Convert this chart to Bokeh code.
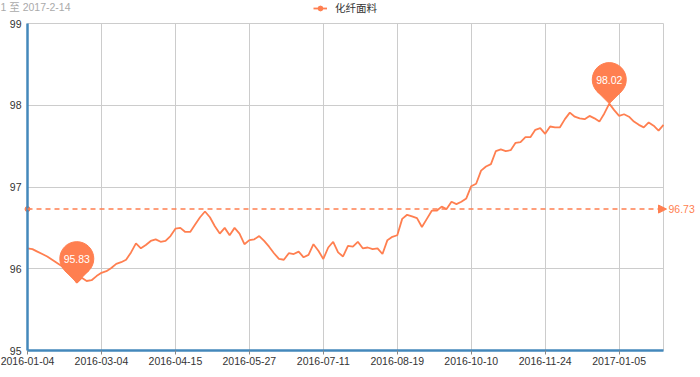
import numpy as np
from bokeh.plotting import figure
from bokeh.models import (Range1d, FixedTicker, Label, Legend, LegendItem,
                          Arrow, NormalHead)
from bokeh.core.properties import value
from bokeh.embed import file_html
from bokeh.resources import INLINE

# ---------------- data ----------------
series_name = "化纤面料"
subtitle = "1 至 2017-2-14"
values = [
    96.25, 96.24, 96.21, 96.18, 96.15, 96.11, 96.07, 96.03, 95.98, 95.92,
    95.83, 95.89, 95.85, 95.86, 95.91, 95.95, 95.97, 96.01, 96.06, 96.08,
    96.11, 96.20, 96.31, 96.25, 96.29, 96.34, 96.36, 96.33, 96.34, 96.40,
    96.49, 96.50, 96.45, 96.45, 96.54, 96.63, 96.70, 96.63, 96.52, 96.43,
    96.50, 96.41, 96.50, 96.43, 96.30, 96.35, 96.36, 96.40, 96.34, 96.27,
    96.19, 96.12, 96.11, 96.19, 96.18, 96.21, 96.14, 96.17, 96.30, 96.22,
    96.12, 96.26, 96.33, 96.20, 96.15, 96.28, 96.27, 96.33, 96.25, 96.26,
    96.24, 96.25, 96.18, 96.35, 96.39, 96.41, 96.61, 96.66, 96.64, 96.62,
    96.51, 96.61, 96.71, 96.71, 96.76, 96.73, 96.82, 96.79, 96.82, 96.86,
    97.01, 97.04, 97.20, 97.25, 97.28, 97.44, 97.46, 97.44, 97.45, 97.54,
    97.55, 97.61, 97.61, 97.70, 97.72, 97.65, 97.74, 97.73, 97.73, 97.83,
    97.91, 97.86, 97.84, 97.83, 97.87, 97.84, 97.80, 97.90, 98.02, 97.94,
    97.87, 97.89, 97.86, 97.80, 97.76, 97.73, 97.79, 97.75, 97.69, 97.76,
]
tick_labels = ["2016-01-04", "2016-03-04", "2016-04-15", "2016-05-27",
               "2016-07-11", "2016-08-19", "2016-10-10", "2016-11-24",
               "2017-01-05"]
tick_step = 15
y_ticks = [95, 96, 97, 98, 99]
avg_value = 96.73

# ---------------- styling ----------------
CORAL = "#ff7f50"
AXIS_BLUE = "#4488bb"
GRID = "#cccccc"
LATIN = "Liberation Sans"
CJK = "Noto Sans CJK SC"

W, H = 700, 377
GL, GR, GT, GB = 27, 37, 23, 27          # grid margins inside the canvas
gw, gh = W - GL - GR, H - GT - GB        # grid size in pixels

n = len(values)
xs = list(range(n))
y0, y1 = y_ticks[0], y_ticks[-1]
sx = gw / (n - 1)                         # pixels per category step
sy = gh / (y1 - y0)                       # pixels per value unit

# the frame covers the whole canvas, so that texts outside the grid
# (subtitle, legend, axis labels, average label) are never clipped;
# both axes are pinned to the grid edges
p = figure(width=W, height=H, output_backend="svg", toolbar_location=None,
           x_range=Range1d(-GL / sx, (n - 1) + GR / sx),
           y_range=Range1d(y0 - GB / sy, y1 + GT / sy),
           min_border_left=0, min_border_right=0,
           min_border_top=0, min_border_bottom=0)
p.background_fill_color = "white"
p.border_fill_color = "white"
p.outline_line_color = None

# x axis (category-like, labelled every tick_step points)
xt = FixedTicker(ticks=[i * tick_step for i in range(len(tick_labels))])
xa = p.xaxis[0]
xa.ticker = xt
xa.fixed_location = y0
xa.bounds = (0, n - 1)
xa.major_label_overrides = {i * tick_step: lab for i, lab in enumerate(tick_labels)}
xa.axis_line_color = AXIS_BLUE
xa.axis_line_width = 2.5
xa.major_tick_out = 4
xa.major_tick_in = 0
xa.major_tick_line_color = "#888888"
xa.minor_tick_out = 0
xa.minor_tick_in = 0
xa.major_label_standoff = 2
xa.major_label_text_font = LATIN
xa.major_label_text_font_size = "10.5px"
xa.major_label_text_color = "#333333"
p.xgrid.ticker = xt
p.xgrid.grid_line_color = GRID
p.xgrid.bounds = (0, n - 1)
p.xgrid.cross_bounds = (y0, y1)

ya = p.yaxis[0]
yt = FixedTicker(ticks=y_ticks)
ya.ticker = yt
ya.fixed_location = 0
ya.bounds = (y0, y1)
ya.major_label_overrides = {t: str(t) for t in y_ticks}
ya.axis_line_color = AXIS_BLUE
ya.axis_line_width = 2.5
ya.major_tick_out = 0
ya.major_tick_in = 0
ya.minor_tick_out = 0
ya.minor_tick_in = 0
ya.major_label_standoff = 6
ya.major_label_text_font = LATIN
ya.major_label_text_font_size = "10.5px"
ya.major_label_text_color = "#333333"
p.ygrid.ticker = yt
p.ygrid.grid_line_color = GRID
p.ygrid.bounds = (y0, y1)
p.ygrid.cross_bounds = (0, n - 1)

# right border of the grid
p.segment(x0=[n - 1], y0=[y0], x1=[n - 1], y1=[y1], line_color=GRID, line_width=1)

# series line
line_r = p.line(xs, values, line_color=CORAL, line_width=1.8)

# average mark line
p.scatter(x=[0], y=[avg_value], size=5, color=CORAL)
p.add_layout(Arrow(end=NormalHead(size=8, fill_color=CORAL, line_color=CORAL),
                   x_start=0, y_start=avg_value,
                   x_end=(n - 1) + 3 / sx, y_end=avg_value,
                   line_color=CORAL, line_width=1.5, line_dash="5 4"))
p.add_layout(Label(x=(n - 1) + 3 / sx, y=avg_value, x_offset=2,
                   text=f"{avg_value:.2f}", text_baseline="middle",
                   text_color=CORAL, text_font=LATIN, text_font_size="10.5px"))

# min / max pins
imin = int(np.argmin(values))
imax = int(np.argmax(values))
pin_idx = [imin, imax]
pin_val = [values[imin], values[imax]]
pin_cy = [v + 24 / sy for v in pin_val]
dot_r = p.scatter(x=[imax], y=[pin_cy[1]], size=7, color=CORAL)
p.patches(xs=[[i, i - 12 / sx, i + 12 / sx] for i in pin_idx],
          ys=[[v, v + 12 / sy, v + 12 / sy] for v in pin_val],
          fill_color=CORAL, line_color=CORAL)
p.circle(x=pin_idx, y=pin_cy, radius=17, radius_units="screen",
         fill_color=CORAL, line_color=CORAL)
p.text(x=pin_idx, y=pin_cy, text=[f"{v:.2f}" for v in pin_val],
       text_align="center", text_baseline="middle", text_color="white",
       text_font=value(LATIN), text_font_size="10.5px")

# legend at the top centre
legend = Legend(items=[LegendItem(label=series_name, renderers=[line_r, dot_r])],
                location=(313, H - 15), orientation="horizontal",
                padding=0, margin=0, border_line_color=None,
                background_fill_alpha=0, glyph_width=14, glyph_height=12,
                label_height=12, label_standoff=8,
                label_text_font=CJK, label_text_font_size="10.5px",
                label_text_color="#333333")
p.add_layout(legend)

# subtitle (cut at the left edge as in the reference)
p.add_layout(Label(x=0, y=H - 6, x_units="screen", y_units="screen",
                   text=subtitle, text_baseline="middle", text_color="#aaaaaa",
                   text_font=f"{LATIN}, {CJK}", text_font_size="10.5px"))

open("out.html", "w").write(file_html(p, INLINE))
